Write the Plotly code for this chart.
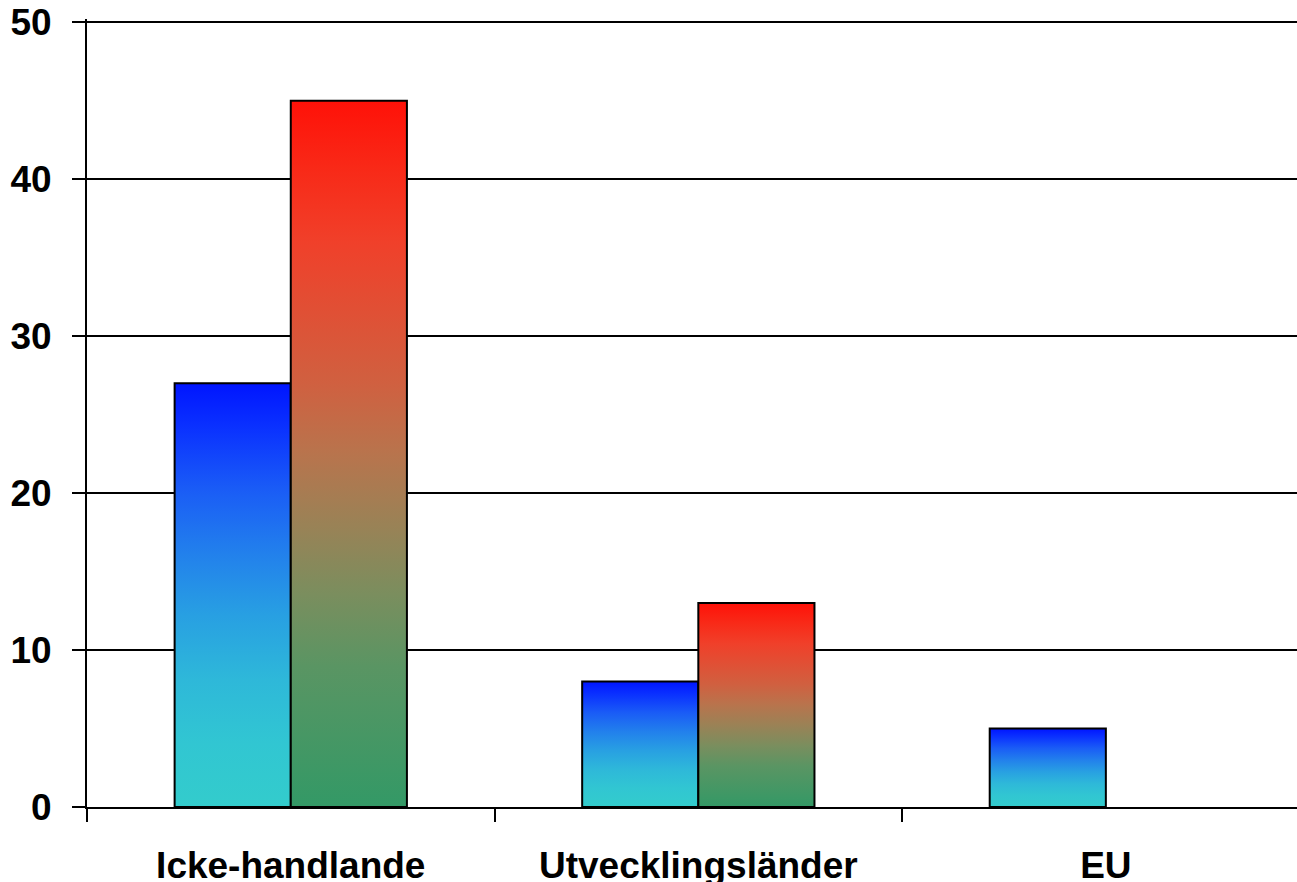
import plotly.graph_objects as go

categories = ["Icke-handlande", "Utvecklingsländer", "EU"]
series_blue = [27, 8, 5]
series_red = [45, 13, 0]
y_ticks = [0, 10, 20, 30, 40, 50]

BAR_W = 0.285
blue_scale = [
    [0.0, "#33cccc"], [0.15, "#31c6d2"], [0.3, "#2eb8d9"], [0.45, "#28a0e2"],
    [0.6, "#2280ec"], [0.75, "#1a5cf6"], [0.9, "#0a30ff"], [1.0, "#0015ff"],
]
red_scale = [
    [0.0, "#339966"], [0.2, "#5a9563"], [0.3, "#7a8e5e"], [0.4, "#9a8256"],
    [0.5, "#b8744d"], [0.6, "#d06040"], [0.7, "#e05035"], [0.8, "#f0402a"],
    [0.9, "#f82a18"], [1.0, "#ff1108"],
]

fig = go.Figure()


def add_bar(x0, x1, val, scale):
    if val <= 0:
        return
    fig.add_trace(go.Scatter(
        x=[x0, x0, x1, x1, x0],
        y=[0, val, val, 0, 0],
        mode="lines",
        fill="toself",
        line=dict(color="black", width=2),
        fillgradient=dict(type="vertical", colorscale=scale, start=0, stop=val),
        hoverinfo="skip",
        showlegend=False,
    ))


for i, cat in enumerate(categories):
    add_bar(i - BAR_W, i, series_blue[i], blue_scale)
    add_bar(i, i + BAR_W, series_red[i], red_scale)

fig.update_layout(
    width=1297,
    height=882,
    margin=dict(l=87, r=0, t=19, b=75),
    paper_bgcolor="white",
    plot_bgcolor="white",
    font=dict(family="Liberation Sans, Arial, sans-serif", size=37, color="black"),
    showlegend=False,
    xaxis=dict(
        range=[-0.5, 2.469],
        automargin=False,
        tickmode="array",
        tickvals=list(range(len(categories))),
        ticktext=[f"<b>{c}</b>" for c in categories],
        ticks="outside",
        ticklen=0,
        ticklabelstandoff=25,
        showgrid=False,
        zeroline=False,
        showline=True,
        linecolor="black",
        linewidth=2,
        minor=dict(
            tickmode="array",
            tickvals=[-0.5, 0.5, 1.5, 2.5],
            ticks="outside",
            ticklen=13,
            tickwidth=1.5,
            tickcolor="black",
            showgrid=False,
        ),
    ),
    yaxis=dict(
        range=[0, 50.2],
        automargin=False,
        tickmode="array",
        tickvals=y_ticks,
        ticktext=[f"<b>{t}</b>" for t in y_ticks],
        ticks="outside",
        ticklen=13,
        tickwidth=1.5,
        tickcolor="black",
        ticklabelstandoff=13,
        showgrid=True,
        gridcolor="black",
        gridwidth=1.5,
        zeroline=False,
        showline=True,
        linecolor="black",
        linewidth=2,
    ),
)

fig.write_html(
    "out.html",
    config={"displayModeBar": False},
    post_script="document.body.style.margin='0';",
)
